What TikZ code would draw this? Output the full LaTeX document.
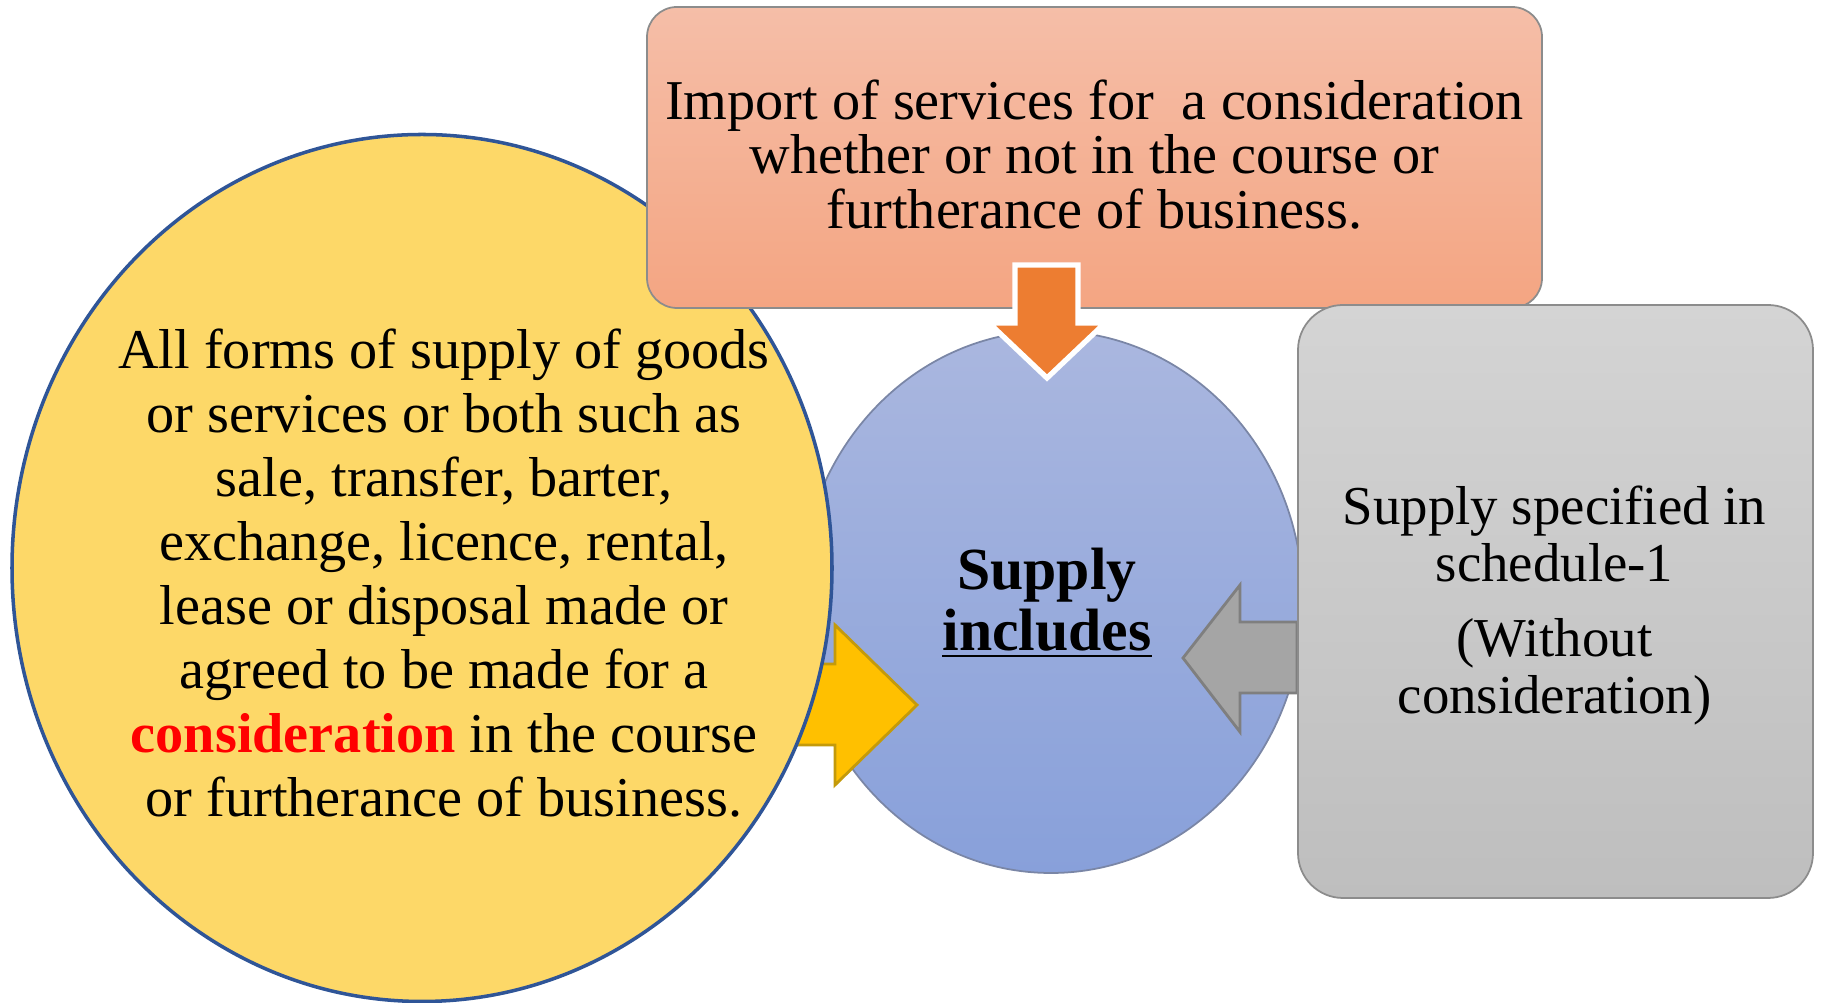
\documentclass[tikz,border=0pt]{standalone}
\usepackage{fontspec}
\setmainfont{Liberation Serif}
\usetikzlibrary{shapes.geometric}

\definecolor{goodsfill}{HTML}{FDD868}
\definecolor{goodsline}{HTML}{2F5597}
\definecolor{supplytop}{HTML}{AAB7DF}
\definecolor{supplybot}{HTML}{88A0DA}
\definecolor{supplyline}{HTML}{7A86A6}
\definecolor{importtop}{HTML}{F5BEA8}
\definecolor{importbot}{HTML}{F4A582}
\definecolor{scheduletop}{HTML}{D4D4D4}
\definecolor{schedulebot}{HTML}{BEBEBE}
\definecolor{boxline}{HTML}{8C8C8C}
\definecolor{arroworange}{HTML}{ED7D31}
\definecolor{arrowyellow}{HTML}{FFC000}
\definecolor{arrowyellowline}{HTML}{C49A0A}
\definecolor{arrowgray}{HTML}{A5A5A5}
\definecolor{arrowgrayline}{HTML}{7F7F7F}
\definecolor{textred}{HTML}{FF0000}

\begin{document}
\begin{tikzpicture}[
	bubble/.style = {ellipse, inner sep = 0},
	panel/.style = {rectangle, inner sep = 0, draw = boxline, line width = 0.5 pt}]

	% Canvas (1 px = 0.01 cm)

	\useasboundingbox (0, 0) rectangle (18.21, -10.03);

	% Central circle

	\node [bubble, minimum width = 5.04 cm, minimum height = 5.42 cm, top color = supplytop,
		bottom color = supplybot, draw = supplyline, line width = 0.5 pt] (supply) at (10.51, -6.02) {};
	\node [align = center, font = \bfseries\fontsize{17}{17.4}\selectfont] (supplytext) at (10.47, -6.03)
		{Supply\\\underline{includes}};

	% Yellow arrow (goes under the left circle)

	\filldraw [fill = arrowyellow, draw = arrowyellowline, line width = 0.8 pt] (7.60, -6.64) -- (8.35, -6.64)
		-- (8.35, -6.25) -- (9.17, -7.05) -- (8.35, -7.85) -- (8.35, -7.45) -- (7.60, -7.45) -- cycle;

	% Left circle

	\node [bubble, minimum width = 8.20 cm, minimum height = 8.67 cm, fill = goodsfill,
		draw = goodsline, line width = 1 pt] (goods) at (4.22, -5.68) {};
	\node [align = center, font = \fontsize{16}{18.2}\selectfont] (goodstext) at (4.44, -5.73)
		{All forms of supply of goods\\or services or both such as\\sale, transfer, barter,\\
		exchange, licence, rental,\\lease or disposal made or\\agreed to be made for a\\
		\textcolor{textred}{\textbf{consideration}} in the course\\or furtherance of business.};

	% Top box + orange arrow

	\node [panel, rounded corners = 0.3 cm, minimum width = 8.95 cm, minimum height = 3.01 cm,
		top color = importtop, bottom color = importbot] (import) at (10.945, -1.575) {};
	\node [align = center, font = \fontsize{16}{15.6}\selectfont] (importtext) at (10.945, -1.545)
		{Import of services for~ a consideration\\whether or not in the course or\\furtherance of business.};

	\filldraw [fill = arroworange, draw = white, line width = 1.5 pt] (10.15, -2.65) -- (10.78, -2.65)
		-- (10.78, -3.23) -- (11.05, -3.23) -- (10.47, -3.78) -- (9.89, -3.23) -- (10.15, -3.23) -- cycle;

	% Gray arrow + right box

	\filldraw [fill = arrowgray, draw = arrowgrayline, line width = 0.8 pt] (12.97, -6.22) -- (12.40, -6.22)
		-- (12.40, -5.85) -- (11.83, -6.58) -- (12.40, -7.32) -- (12.40, -6.93) -- (12.97, -6.93) -- cycle;

	\node [panel, rounded corners = 0.45 cm, minimum width = 5.15 cm, minimum height = 5.93 cm,
		top color = scheduletop, bottom color = schedulebot] (schedule) at (15.555, -6.015) {};
	\node [align = center, font = \fontsize{15.6}{16.2}\selectfont] (scheduletext) at (15.545, -6.055)
		{Supply specified in\\schedule-1\\[5 pt](Without\\consideration)};

\end{tikzpicture}
\end{document}
